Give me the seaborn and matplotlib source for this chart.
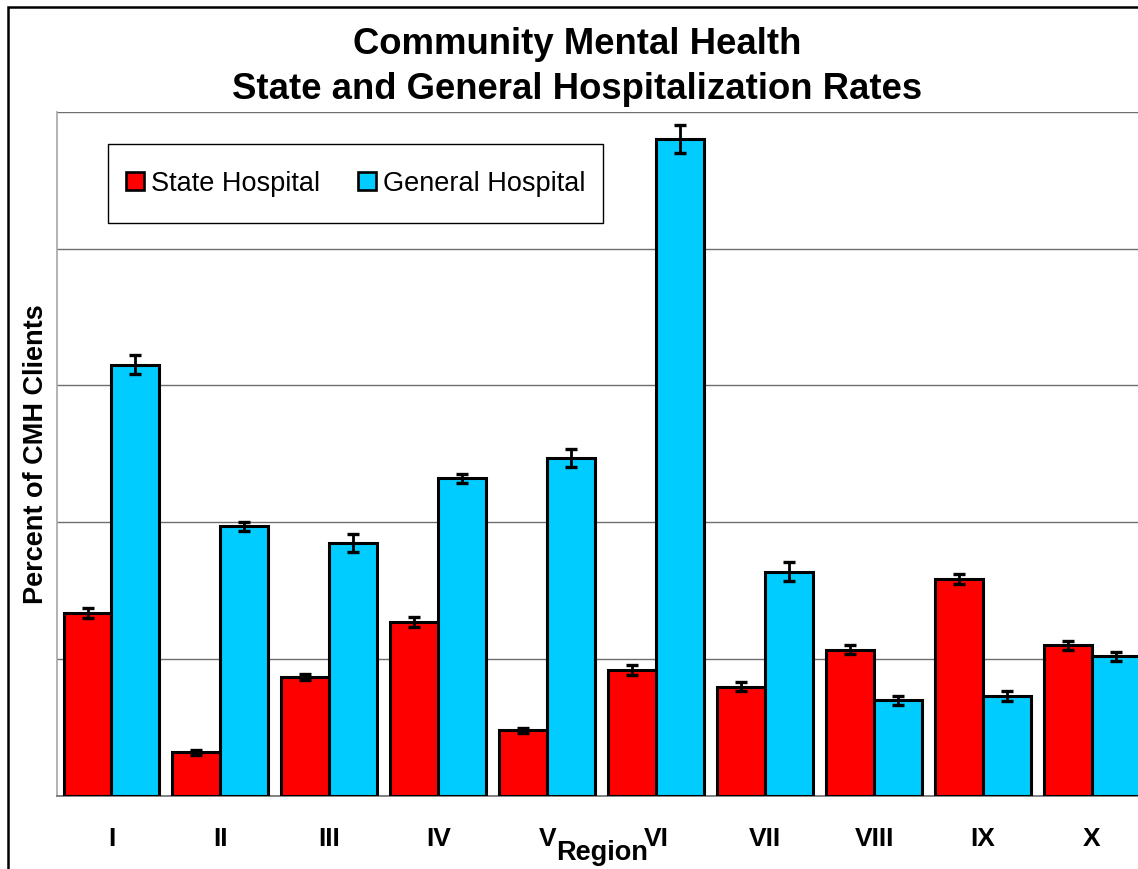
import numpy as np
import pandas as pd
import seaborn as sns
import matplotlib
matplotlib.use("Agg")
import matplotlib.pyplot as plt
from matplotlib.patches import Rectangle
from matplotlib.lines import Line2D

# ---- data (y unit = one gridline) ----
regions = ["I", "II", "III", "IV", "V", "VI", "VII", "VIII", "IX", "X"]
series_names = ["State Hospital", "General Hospital"]
state_values = [1.34, 0.32, 0.87, 1.27, 0.48, 0.92, 0.80, 1.07, 1.585, 1.10]
general_values = [3.15, 1.97, 1.85, 2.32, 2.47, 4.80, 1.64, 0.70, 0.73, 1.02]
state_err = [0.036, 0.018, 0.02, 0.038, 0.02, 0.034, 0.034, 0.034, 0.035, 0.035]
general_err = [0.07, 0.035, 0.068, 0.035, 0.067, 0.10, 0.068, 0.034, 0.035, 0.034]
colors = ["#FF0000", "#00CCFF"]
title_text = "Community Mental Health\nState and General Hospitalization Rates"
ylabel_text = "Percent of CMH Clients"
xlabel_text = "Region"

df = pd.DataFrame({
    "Region": regions * 2,
    "Series": [series_names[0]] * len(regions) + [series_names[1]] * len(regions),
    "Value": state_values + general_values,
})

sns.set_theme(style="white")
plt.rcParams["font.family"] = ["Liberation Sans", "DejaVu Sans"]
plt.rcParams["text.color"] = "black"
plt.rcParams["axes.labelcolor"] = "black"
plt.rcParams["xtick.color"] = "black"

W, H = 1138, 869
fig = plt.figure(figsize=(W / 100, H / 100), dpi=100)

ax_left, ax_right, ax_top, ax_bottom = 57, 1146.5, 111.7, 796
ax_w, ax_h = ax_right - ax_left, ax_bottom - ax_top
ax = fig.add_axes([ax_left / W, 1 - ax_bottom / H, ax_w / W, ax_h / H])

sns.barplot(data=df, x="Region", y="Value", hue="Series", order=regions,
            hue_order=series_names, palette=colors, errorbar=None,
            width=0.88, edgecolor="black", linewidth=2.2, saturation=1,
            ax=ax, legend=False, zorder=3)

# error bars at bar centers
for cont, errs in zip(ax.containers, [state_err, general_err]):
    xs = [p.get_x() + p.get_width() / 2 for p in cont.patches]
    ys = [p.get_height() for p in cont.patches]
    ax.errorbar(xs, ys, yerr=errs, fmt="none", ecolor="black",
                elinewidth=2.0, capsize=4, capthick=2.4, zorder=4)

ax.set_xlim(-0.5, len(regions) - 0.5)
ax.set_ylim(0, 5)
ax.set_yticks(range(0, 6))
ax.set_yticklabels([])
ax.yaxis.grid(True, color="#6e6e6e", linewidth=1.0, zorder=0)
ax.set_axisbelow(True)
ax.tick_params(axis="both", length=0)
ax.tick_params(axis="x", pad=22)
for lab in ax.get_xticklabels():
    lab.set_fontsize(19)
    lab.set_fontweight("bold")
    lab.set_color("black")

ax.spines["top"].set_visible(False)
ax.spines["right"].set_visible(False)
ax.spines["left"].set_color("#a6a6a6")
ax.spines["left"].set_linewidth(1.2)
ax.spines["bottom"].set_color("#6e6e6e")
ax.spines["bottom"].set_linewidth(1.2)

ax.set_xlabel(xlabel_text, fontsize=19.5, fontweight="bold", color="black")
ax.xaxis.set_label_coords(0.5, -0.065)
ax.set_ylabel(ylabel_text, fontsize=19.5, fontweight="bold", color="black",
              va="center")
ax.yaxis.set_label_coords(-0.0195, 0.5)

# legend: box drawn at the reference position, entries centred inside it
lx0, lx1, ly0, ly1 = 108, 603, 144, 223
lbox = ((lx0 - ax_left) / ax_w, (ax_bottom - ly1) / ax_h,
        (lx1 - lx0) / ax_w, (ly1 - ly0) / ax_h)
ax.add_patch(Rectangle(lbox[:2], lbox[2], lbox[3], transform=ax.transAxes,
                       facecolor="white", edgecolor="black", linewidth=1.0,
                       zorder=5))
handles = [Line2D([], [], linestyle="none", marker="s", markersize=12.5,
                  markerfacecolor=c, markeredgecolor="black",
                  markeredgewidth=1.9) for c in colors]
leg = ax.legend(handles, series_names, ncol=2, loc="center",
                bbox_to_anchor=lbox, borderaxespad=0, fontsize=19.5,
                frameon=False, handlelength=0.74, handleheight=0.83,
                handletextpad=0.22, columnspacing=1.37, borderpad=0.0)
leg.set_zorder(6)
for t in leg.get_texts():
    t.set_color("black")

# title
fig.text(577.5 / W, 1 - 27 / H, title_text, ha="center", va="top",
         fontsize=26.3, fontweight="bold", linespacing=1.37, color="black")

# outer chart border (clipped at right/bottom like the reference)
fig.patches.append(Rectangle((7.5 / W, -0.05), (1148 - 7.5) / W, 1.05 - 7.5 / H,
                             transform=fig.transFigure, fill=False,
                             edgecolor="black", linewidth=1.8))

fig.savefig("out.png", dpi=100)
